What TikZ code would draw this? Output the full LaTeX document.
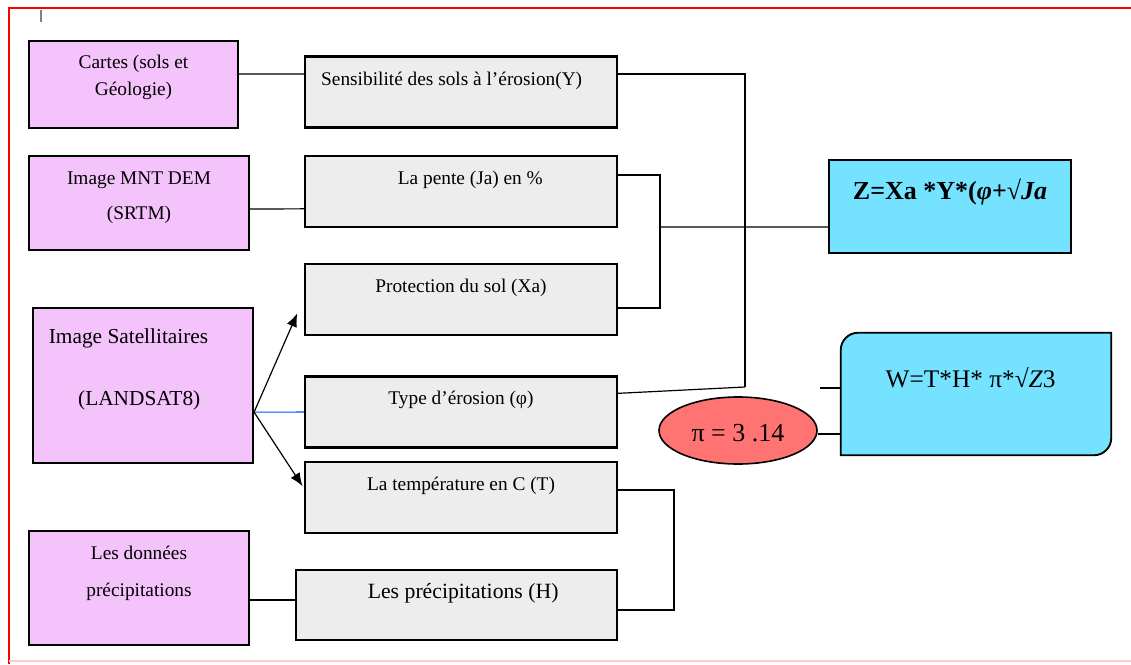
\documentclass[tikz,border=0pt]{standalone}
\usepackage{fontspec}
\setmainfont{Liberation Serif}
\usetikzlibrary{shapes,arrows.meta,calc}
\definecolor{srcpink}{HTML}{F5C3FB}
\definecolor{boxgrey}{HTML}{EDEDED}
\definecolor{rescyan}{HTML}{75E3FF}
\definecolor{pired}{HTML}{FF7373}
\tikzstyle{src} = [rectangle, draw, line width=1.6pt, fill=srcpink, minimum width=165pt]
\tikzstyle{block} = [rectangle, draw, line width=1.6pt, fill=boxgrey, minimum width=234pt, minimum height=53.25pt]
\tikzstyle{result} = [rectangle, draw, line width=1.4pt, fill=rescyan]
\tikzstyle{txt} = [inner sep=0pt, align=center, font=\fontsize{14.5}{20}\selectfont]
\tikzstyle{wire} = [draw, line width=0.9pt]
\tikzstyle{line} = [draw, line width=0.9pt, -{Latex[length=10pt, width=8pt]}]

\begin{document}
\begin{tikzpicture}[x=0.75pt, y=-0.75pt]
    \useasboundingbox (0,0) rectangle (1131,664);
    % Frame
    \draw[red, line width=2.2pt] (1131,8) -- (9,8) -- (9,664);
    \draw[red!20, line width=1pt] (9,661) -- (1131,661);
    \draw[gray, line width=0.8pt] (41,10) -- (41,22);
    % Place nodes
    \node [src, minimum width=156.75pt, minimum height=65.25pt] (cartes) at (133.5,84.5) {};
    \node [src, minimum height=70.5pt] (mnt) at (139,203) {};
    \node [src, minimum height=116.25pt] (sat) at (143,385.5) {};
    \node [src, minimum height=85.5pt] (pluie) at (139,588) {};
    \node [block] (sens) at (461,92) {};
    \node [block] (pente) at (461,191.5) {};
    \node [block] (prot) at (461,299.5) {};
    \node [block] (type) at (461,412) {};
    \node [block] (temp) at (461,497.5) {};
    \node [block, minimum width=240.75pt, minimum height=52.5pt] (precip) at (456.5,605) {};
    \node [result, minimum width=181.5pt, minimum height=69.75pt] (zres) at (950,206.5) {};
    \node [minimum width=202.5pt, minimum height=91.5pt] (wres) at (976,394) {};
    \draw [line width=1.4pt, fill=rescyan] (wres.south west) -- ([yshift=-13pt]wres.north west)
        arc[start angle=180, end angle=90, radius=13pt] -- (wres.north east)
        -- ([yshift=13pt]wres.south east) arc[start angle=0, end angle=-90, radius=13pt] -- cycle;
    \node [ellipse, draw, line width=1.2pt, fill=pired, minimum width=118.5pt, minimum height=50.25pt] (pi) at (738,430.5) {};
    % Texts
    \node [txt] (cartes-t) at ([yshift=-28pt]cartes.north) {Cartes (sols et\\Géologie)};
    \node [txt, font=\fontsize{14.5}{26}\selectfont] (mnt-t) at ([yshift=-32pt]mnt.north) {Image MNT DEM\\(SRTM)};
    \node [txt, align=left, anchor=west, font=\fontsize{16}{46.5}\selectfont] (sat-t) at ([xshift=12.5pt, yshift=-47pt]sat.north west -| sat.west) {Image Satellitaires\\\hspace*{22pt}(LANDSAT8)};
    \node [txt, font=\fontsize{14.5}{28}\selectfont] (pluie-t) at ([yshift=-32.6pt]pluie.north) {Les données\\précipitations};
    \node [txt] (sens-t) at ([xshift=-7pt, yshift=-19pt]sens.north) {Sensibilité des sols à l’érosion(Y)};
    \node [txt] (pente-t) at ([xshift=7pt, yshift=-19pt]pente.north) {La pente (Ja) en \%};
    \node [txt] (prot-t) at ([yshift=-19pt]prot.north) {Protection du sol (Xa)};
    \node [txt] (type-t) at ([yshift=-18pt]type.north) {Type d’érosion (φ)};
    \node [txt] (temp-t) at ([yshift=-19pt]temp.north) {La température en C (T)};
    \node [txt, font=\fontsize{16.3}{20}\selectfont] (precip-t) at ([xshift=5pt, yshift=-18pt]precip.north) {Les précipitations (H)};
    \node [txt, font=\fontsize{19.5}{22}\bfseries] (zres-t) at ([yshift=-25pt]zres.north) {Z=Xa *Y*(\textit{φ}+√\textit{Ja}};
    \node [txt, font=\fontsize{19}{22}\selectfont] (wres-t) at ([xshift=-4pt, yshift=-34pt]wres.north) {W=T*H* π*√\textit{Z}3};
    \node [txt, font=\fontsize{19.5}{22}\selectfont] (pi-t) at ([yshift=-2pt]pi.center) {π = 3 .14};
    % Junctions
    \coordinate (jY) at (745,387);
    \coordinate (jZ) at (660,227);
    \coordinate (wIn) at (820,388);
    % Draw edges
    \path [wire] ([yshift=7.9pt]cartes.east) -- ([yshift=13.5pt]sens.west);
    \path [wire] ([yshift=-4.5pt]mnt.east) -- ([yshift=-13pt]pente.west);
    \path [wire] ([yshift=-9pt]pluie.east) -- ([yshift=3.75pt]precip.west);
    \path [line] ([yshift=-20pt]sat.east) -- ([xshift=-5pt, yshift=17pt]prot.south west);
    \path [draw, line width=0.8pt, blue!70!cyan] ([yshift=-20pt]sat.east) -- (type.west);
    \path [line] ([yshift=-20pt]sat.east) -- ([xshift=-1pt, yshift=-19pt]temp.north west);
    \path [wire] ([yshift=13.5pt]sens.east) -| (jY);
    \path [wire] ([yshift=14pt]type.east) -- (jY);
    \path [wire] ([yshift=12.4pt]pente.east) -| (jZ) |- ([yshift=-6.4pt]prot.east);
    \path [wire] (jZ) -- ([yshift=-15.4pt]zres.west);
    \path [wire] ([yshift=5.6pt]temp.east) -- ++(42pt,0) |- ([yshift=-3.75pt]precip.east);
    \path [wire] (wIn) -- ([yshift=4.5pt]wres.west);
    \path [wire] ([yshift=-2.6pt]pi.east) -- ([yshift=-2.6pt]pi.east -| wres.west);
\end{tikzpicture}
\end{document}
